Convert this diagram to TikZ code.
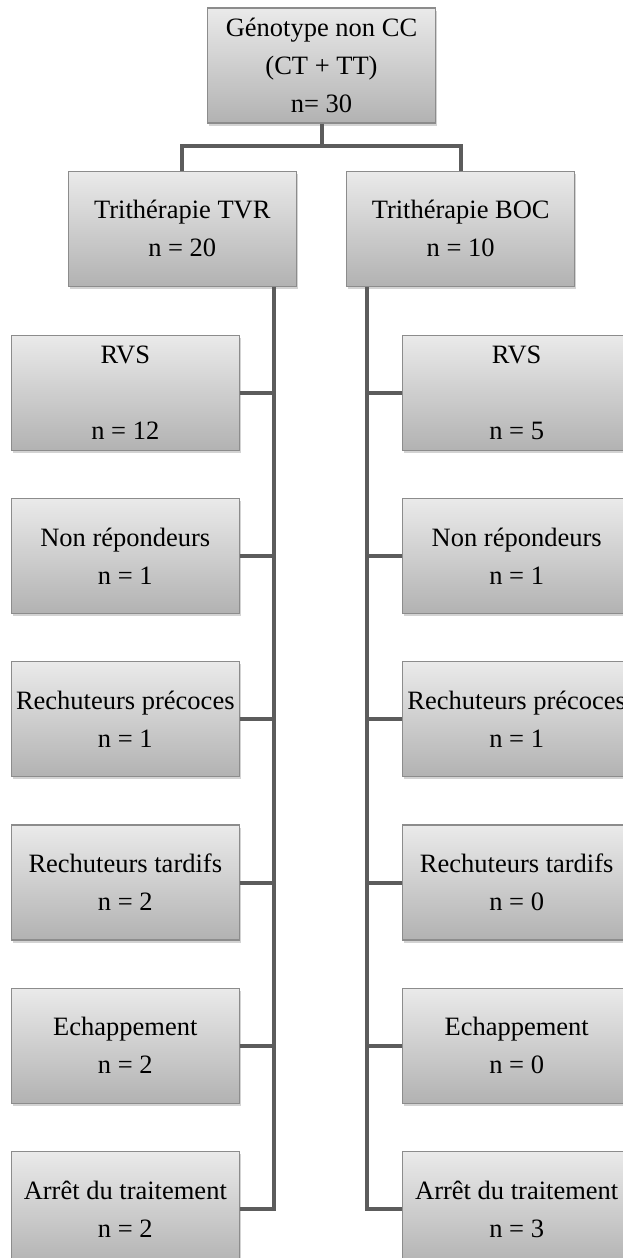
\documentclass[tikz,border=0pt]{standalone}
\usepackage{fontspec}
\setmainfont{Liberation Serif}
\usetikzlibrary{positioning,shadows}
\definecolor{boxtop}{RGB}{234,234,234}
\definecolor{boxbot}{RGB}{178,178,178}
\definecolor{boxline}{RGB}{140,140,140}
\definecolor{linkgray}{RGB}{92,92,92}

\begin{document}
\begin{tikzpicture}[
            node distance = 47pt and 0pt,
            box/.style = {rectangle, draw=boxline, line width=1.2pt,
                          top color=boxtop, bottom color=boxbot,
                          drop shadow={shadow xshift=1.5pt, shadow yshift=-2.5pt, opacity=0.35},
                          font=\fontsize{26.5}{38}\selectfont, text=black,
                          minimum width=228pt, minimum height=115pt, inner sep=0pt, align=center},
            link/.style = {draw=linkgray, line width=4pt}
                          ]
            \useasboundingbox (0,0) rectangle (623pt,-1258pt);
            \node[box] (GEN) at (321.5pt,-65.5pt) {Génotype non CC\\(CT + TT)\\n= 30};
            \node[box] (TVR) [below left  = 47pt and -90pt of GEN] {Trithérapie TVR\\n = 20};
            \node[box] (BOC) [below right = 47pt and -90pt of GEN] {Trithérapie BOC\\n = 10};
            % TVR
            \node[box] (RVS1) [below = 48pt of TVR, xshift=-57pt] {RVS\\[38pt]n = 12};
            \node[box] (NR1)  [below = of RVS1] {Non répondeurs\\n = 1};
            \node[box] (RP1)  [below = of NR1]  {Rechuteurs précoces\\n = 1};
            \node[box] (RT1)  [below = of RP1]  {Rechuteurs tardifs\\n = 2};
            \node[box] (ECH1) [below = of RT1]  {Echappement\\n = 2};
            \node[box] (ARR1) [below = of ECH1] {Arrêt du traitement\\n = 2};
            % BOC
            \node[box] (RVS2) [below = 48pt of BOC, xshift=56pt] {RVS\\[38pt]n = 5};
            \node[box] (NR2)  [below = of RVS2] {Non répondeurs\\n = 1};
            \node[box] (RP2)  [below = of NR2]  {Rechuteurs précoces\\n = 1};
            \node[box] (RT2)  [below = of RP2]  {Rechuteurs tardifs\\n = 0};
            \node[box] (ECH2) [below = of RT2]  {Echappement\\n = 0};
            \node[box] (ARR2) [below = of ECH2] {Arrêt du traitement\\n = 3};
            %
            \draw [link] (GEN.south) -- ++(0,-22pt) coordinate (bus) -| (TVR.north);
            \draw [link] (bus) -| (BOC.north);
            \coordinate (tvrtrunk) at ([xshift=-23pt]TVR.south east);
            \coordinate (boctrunk) at ([xshift=21pt]BOC.south west);
            \draw [link] (tvrtrunk) |- (ARR1.east);
            \draw [link] (boctrunk) |- (ARR2.west);
            \foreach \b in {RVS1,NR1,RP1,RT1,ECH1}
                \draw [link] (\b.east) -- (\b.east -| tvrtrunk);
            \foreach \b in {RVS2,NR2,RP2,RT2,ECH2}
                \draw [link] (\b.west) -- (\b.west -| boctrunk);
\end{tikzpicture}
\end{document}
